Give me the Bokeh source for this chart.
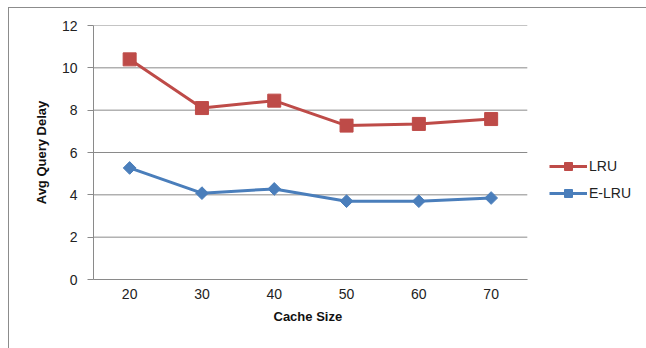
import math
from bokeh.plotting import figure
from bokeh.models import Range1d, Legend, LegendItem, FixedTicker, Title
from bokeh.embed import file_html
from bokeh.resources import INLINE

cache_sizes = [20, 30, 40, 50, 60, 70]
lru = [10.4, 8.1, 8.45, 7.27, 7.35, 7.58]
elru = [5.27, 4.08, 4.28, 3.7, 3.7, 3.85]
y_ticks = [0, 2, 4, 6, 8, 10, 12]
x_lo, x_hi = 15, 75   # category band limits of the plot area

FONT = "Liberation Sans"
GRID = "#8a8a8a"
RED = "#BE4B48"
BLUE = "#4A7EBB"

# plot area is 433px for the 6 category bands; frame extends further right to host the legend
frame_w = 543
x_end = x_lo + (x_hi - x_lo) * frame_w / 433

p = figure(width=638, height=341, x_range=Range1d(x_lo, x_end), y_range=Range1d(0, 12),
           output_backend="svg", toolbar_location=None,
           min_border_left=84, min_border_right=10, min_border_top=17, min_border_bottom=70)
p.margin = (7, 0, 0, 8)
p.styles = {"border-top": "1px solid #8c8c8c", "border-left": "1px solid #8c8c8c"}
p.outline_line_color = None

p.xgrid.grid_line_color = None
p.ygrid.grid_line_color = None
p.yaxis.ticker = FixedTicker(ticks=y_ticks)
p.xaxis.ticker = FixedTicker(ticks=cache_sizes)
p.xaxis.bounds = (x_lo, x_hi)

for ax in (p.xaxis[0], p.yaxis[0]):
    ax.axis_line_color = GRID
    ax.major_label_text_font = FONT
    ax.major_label_text_font_size = "14px"
    ax.major_label_text_color = "#222222"
    ax.axis_label_text_font = FONT
    ax.axis_label_text_font_size = "13px"
    ax.axis_label_text_font_style = "bold"
    ax.axis_label_text_color = "#111111"
    ax.minor_tick_line_color = None

p.yaxis.major_tick_line_color = GRID
p.yaxis.major_tick_out = 6
p.yaxis.major_tick_in = 0
p.yaxis.major_label_standoff = 10
p.yaxis.axis_label = "Avg Query Delay"
p.yaxis.axis_label_standoff = 10

p.xaxis.major_tick_line_color = None
p.xaxis.major_tick_out = 0
p.xaxis.major_tick_in = 0
p.xaxis.major_label_standoff = 9

# x-axis title centred under the plot area (not the whole frame)
xtitle = Title(text="Cache Size", align="left", offset=180, text_font=FONT,
               text_font_size="13px", text_font_style="bold", text_color="#111111",
               standoff=11)
p.add_layout(xtitle, "below")

# horizontal gridlines limited to the plot area
p.segment(x0=[x_lo] * len(y_ticks), x1=[x_hi] * len(y_ticks), y0=y_ticks, y1=y_ticks,
          line_color=GRID, line_width=1)

l1 = p.line(cache_sizes, lru, line_color=RED, line_width=3)
m1 = p.scatter(cache_sizes, lru, marker="square", size=13, fill_color=RED, line_color=RED)
l2 = p.line(cache_sizes, elru, line_color=BLUE, line_width=3)
m2 = p.scatter(cache_sizes, elru, marker="square", angle=math.pi / 4, size=9,
               fill_color=BLUE, line_color=BLUE)

legend = Legend(items=[LegendItem(label="LRU", renderers=[l1, m1]),
                       LegendItem(label="E-LRU", renderers=[l2, m2])],
                location=(456, 76), border_line_color=None, background_fill_alpha=0,
                label_text_font=FONT, label_text_font_size="14px", label_text_color="#222222",
                glyph_width=38, glyph_height=20, spacing=7, padding=4, label_standoff=2, margin=0)
p.add_layout(legend)

open("out.html", "w").write(file_html(p, INLINE))
